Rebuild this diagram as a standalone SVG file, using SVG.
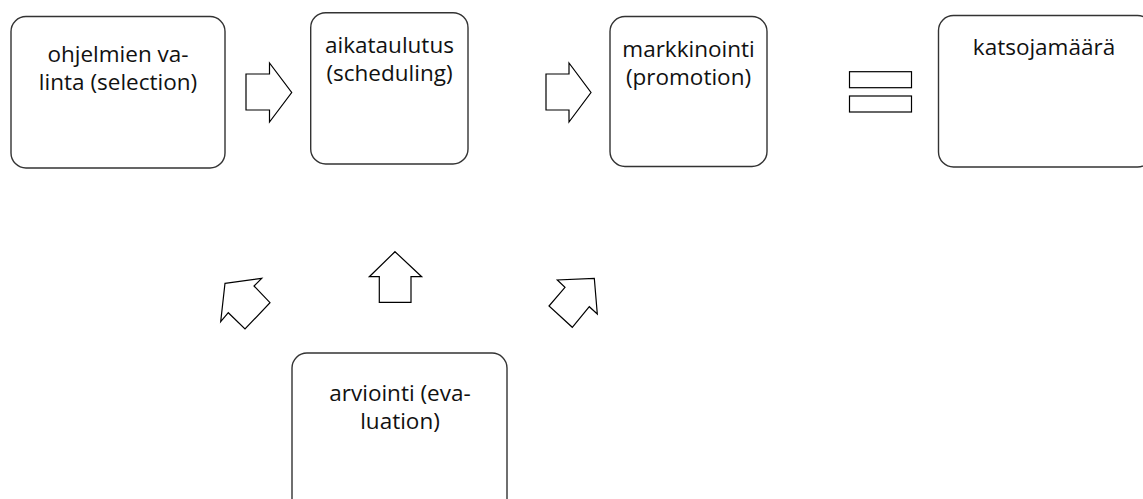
<svg xmlns="http://www.w3.org/2000/svg" width="1143" height="499" viewBox="0 0 1143 499">
<style>
.box{fill:#fff;stroke:#333;stroke-width:1.4}
.arr{fill:#fff;stroke:#000;stroke-width:1.2;stroke-linejoin:miter}
.t{font-family:"Open Sans","Liberation Sans",sans-serif;font-size:22.5px;fill:#111;text-anchor:middle}
</style>
<rect width="1143" height="499" fill="#fff"/>
<g id="selection">
<rect class="box" x="11" y="16.5" width="214" height="151.5" rx="15"/>
<text class="t" x="118" y="62">ohjelmien va-</text>
<text class="t" x="118" y="90">linta (selection)</text>
</g>
<g id="scheduling">
<rect class="box" x="310.7" y="12.7" width="157.3" height="151.3" rx="15"/>
<text class="t" x="389.5" y="53">aikataulutus</text>
<text class="t" x="389.5" y="81">(scheduling)</text>
</g>
<g id="promotion">
<rect class="box" x="610" y="16.5" width="157" height="150" rx="15"/>
<text class="t" x="688.5" y="57">markkinointi</text>
<text class="t" x="688.5" y="85">(promotion)</text>
</g>
<g id="katsojamaara">
<rect class="box" x="938.5" y="15.5" width="214" height="151.5" rx="15"/>
<text class="t" x="1044" y="55">katsojamäärä</text>
</g>
<g id="evaluation">
<rect class="box" x="292" y="353" width="215" height="170" rx="15"/>
<text class="t" x="400" y="401">arviointi (eva-</text>
<text class="t" x="400" y="429">luation)</text>
</g>
<g id="connectors">
<polygon class="arr" points="246,74 269.5,74 269.5,63 291.7,92.5 269.5,122 269.5,110 246,110"/>
<polygon class="arr" points="546,74 569,74 569,63 591,92.5 569,122 569,110 546,110"/>
<rect class="arr" x="849.5" y="71.7" width="62" height="16"/>
<rect class="arr" x="849.5" y="96" width="62" height="16"/>
<polygon class="arr" points="395,251.7 421.7,276.7 411,276.7 411,302.3 379.3,302.3 379.3,276.7 369.3,276.7"/>
<polygon class="arr" points="225,283.3 261.7,278.3 254,286 270,302.7 245,329 228.3,312.7 220.7,321.7"/>
<polygon class="arr" points="594.3,278.3 597.3,314 589.3,306.7 572.3,327.3 549,306 565,287.3 557.3,280"/>
</g>
</svg>
